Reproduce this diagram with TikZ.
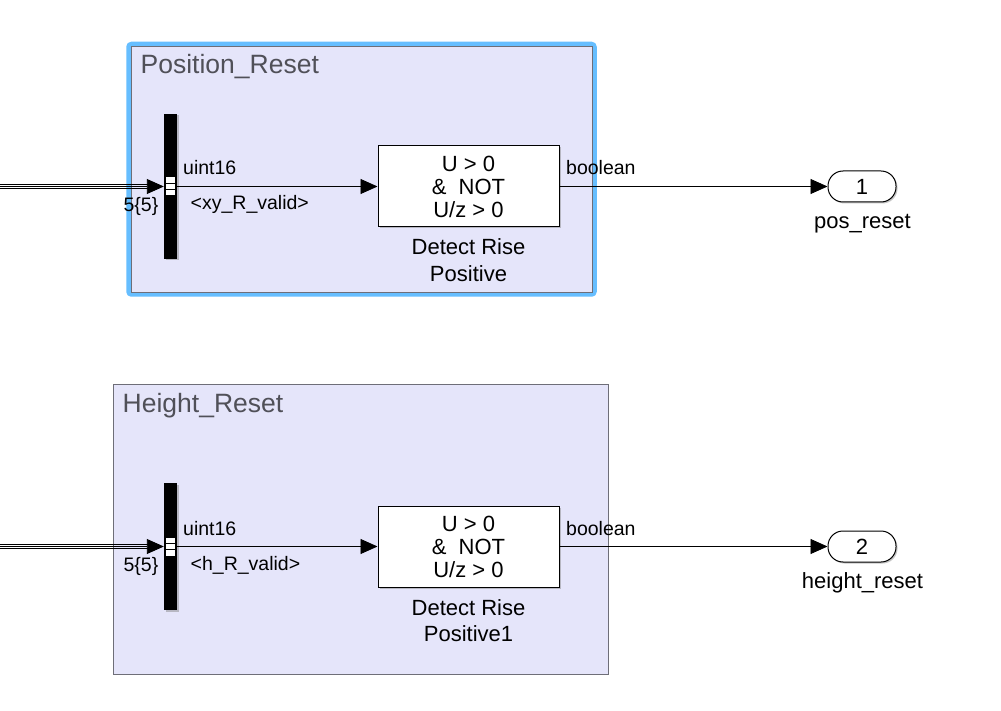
\documentclass[tikz,border=0pt]{standalone}
\usepackage{fontspec}
\setmainfont{Liberation Sans}
\usetikzlibrary{arrows.meta,shadows}

\definecolor{areafill}{RGB}{229,229,250}
\definecolor{areaedge}{RGB}{110,110,120}
\definecolor{selblue}{RGB}{102,190,255}
\definecolor{titlegray}{RGB}{80,80,88}

\begin{document}
\begin{tikzpicture}[x=1pt, y=-1pt,
        area/.style={draw=areaedge, fill=areafill, line width=0.9pt},
        areatitle/.style={anchor=base west, inner sep=0, text=titlegray, font=\fontsize{26.5}{30}\selectfont},
        shadowed/.style={drop shadow={shadow xshift=1.5pt, shadow yshift=-1.5pt, fill=black!50, opacity=0.45}},
        busbar/.style={shadowed, fill=black, minimum width=13pt, inner sep=0},
        detect/.style={shadowed, draw, fill=white, line width=1pt, minimum width=181pt, minimum height=81pt,
            inner sep=0, align=center, font=\fontsize{22}{23}\selectfont},
        outport/.style={shadowed, draw, fill=white, line width=1pt, rounded corners=15pt, minimum width=68pt,
            minimum height=31pt, inner sep=0, font=\fontsize{22}{26}\selectfont},
        sig/.style={-{Triangle[length=17pt, width=15pt]}, line width=0.9pt},
        lbl/.style={inner sep=0, font=\fontsize{19.5}{22}\selectfont},
        blkname/.style={inner sep=0, align=center, font=\fontsize{22}{26.5}\selectfont}]

        \useasboundingbox (0, 0) rectangle (1001, 711);
        \fill[white] (0, 0) rectangle (1001, 711);

        % the two subsystem areas
        \draw[selblue, line width=4.5pt, rounded corners=3pt] (128.5, 44) rectangle (594.5, 294.5);
        \draw[area] (131, 46) rectangle (592, 292);
        \node[areatitle] (posTitle) at (140.5, 73.5) {Position\_Reset};

        \draw[area] (113, 384) rectangle (608, 674);
        \node[areatitle] (heightTitle) at (122.5, 412.5) {Height\_Reset};

        \foreach \nm/\yy/\barh/\sel/\blk/\num in {pos/186.5/145/xy/Positive/1, height/546.5/127/h/Positive1/2}
        {
            \coordinate (\nm In) at (0, \yy);
            \node[busbar, minimum height=\barh pt] (\nm Bus) at (170.5, \yy) {};
            \fill[white] ([shift={(-4.5, -9)}]\nm Bus.center) rectangle ++(9, 18);
            \draw[line width=0.8pt] ([shift={(-4.5, -3)}]\nm Bus.center) -- ++(9, 0);
            \draw[line width=0.8pt] ([shift={(-4.5, 3)}]\nm Bus.center) -- ++(9, 0);

            % bus coming in
            \draw[sig] (\nm In) -- (\nm Bus.west);
            \draw[line width=0.8pt] ([yshift=2pt]\nm In) -- ++(148, 0);
            \draw[line width=0.8pt] ([yshift=-2pt]\nm In) -- ++(148, 0);
            \node[lbl, anchor=base east] (\nm Dim) at (158.5, \yy+25) {5\{5\}};

            \node[detect] (\nm Det) at (468.5, \yy) {U > 0\\\&\ \ NOT\\U/z > 0};
            \node[blkname, anchor=base] (\nm Name) at (468.5, \yy+95) {Detect Rise\\\blk};
            \draw[sig] (\nm Bus.east) -- (\nm Det.west);
            \node[lbl, anchor=base west] (\nm Type) at (183, \yy-11.5) {uint16};
            \node[lbl, anchor=base west] (\nm Sig) at (190.5, \yy+23.5) {<\sel\_R\_valid>};

            \node[outport] (\nm Out) at (862, \yy) {\num};
            \draw[sig] (\nm Det.east) -- (\nm Out.west);
            \node[lbl, anchor=base west] (\nm Bool) at (566, \yy-11.5) {boolean};
        }
        \node[blkname, anchor=base] (posPort) at (862.5, 228.5) {pos\_reset};
        \node[blkname, anchor=base] (heightPort) at (862.5, 588.5) {height\_reset};

    \end{tikzpicture}
\end{document}
